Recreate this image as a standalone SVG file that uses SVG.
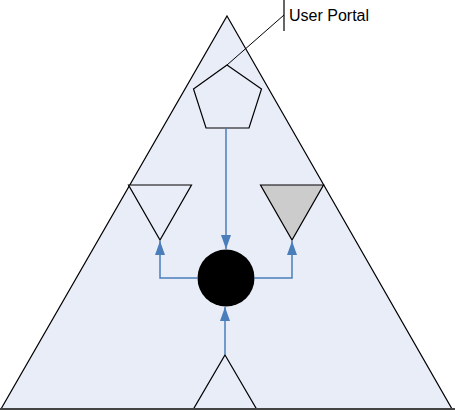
<svg xmlns="http://www.w3.org/2000/svg" width="455" height="410" viewBox="0 0 455 410">
<style>
.shape{stroke:#000;stroke-width:1.2;stroke-linejoin:miter}
.conn{fill:none;stroke:#4a7ebb;stroke-width:1.5}
.lbl{font-family:"Liberation Sans",Arial,sans-serif;font-size:16px;fill:#000}
</style>
<defs>
<marker id="arr" viewBox="0 0 14 10" refX="14" refY="5" markerWidth="14" markerHeight="10" markerUnits="userSpaceOnUse" orient="auto">
<path d="M0,0 L14,5 L0,10 Z" fill="#4a7ebb"/>
</marker>
</defs>
<rect width="455" height="410" fill="#fff"/>
<g id="outer"><polygon class="shape" points="227,16 452,409 1,409" fill="#e8edf7" stroke="#333"/></g>
<g id="portal"><polygon class="shape" points="227,65 261.5,89 249,128 206,128 193.5,89" fill="#e8edf7"/></g>
<g id="callout">
<polyline points="227,65 284,15" fill="none" stroke="#000" stroke-width="1"/>
<line x1="284" y1="0" x2="284" y2="31" stroke="#000" stroke-width="1.2"/>
<text class="lbl" x="289" y="21">User Portal</text>
</g>
<g id="left-tri"><polygon class="shape" points="128.5,185 191.5,185 160,240" fill="#e8edf7"/></g>
<g id="right-tri"><polygon class="shape" points="260.5,185 323.5,185 292,240" fill="#cccccc"/></g>
<g id="hub"><circle cx="226" cy="278" r="28.5" fill="#000"/></g>
<g id="bottom-tri"><polygon class="shape" points="225,355 256.5,409 193.5,409" fill="#e8edf7"/></g>
<g id="connectors">
<path class="conn" d="M226,128 L226,249" marker-end="url(#arr)"/>
<path class="conn" d="M198,278 L160,278 L160,241" marker-end="url(#arr)"/>
<path class="conn" d="M254,278 L292,278 L292,241" marker-end="url(#arr)"/>
<path class="conn" d="M225,355 L225,307" marker-end="url(#arr)"/>
</g>
<line x1="0" y1="409" x2="455" y2="409" stroke="#444" stroke-width="2"/>
</svg>
